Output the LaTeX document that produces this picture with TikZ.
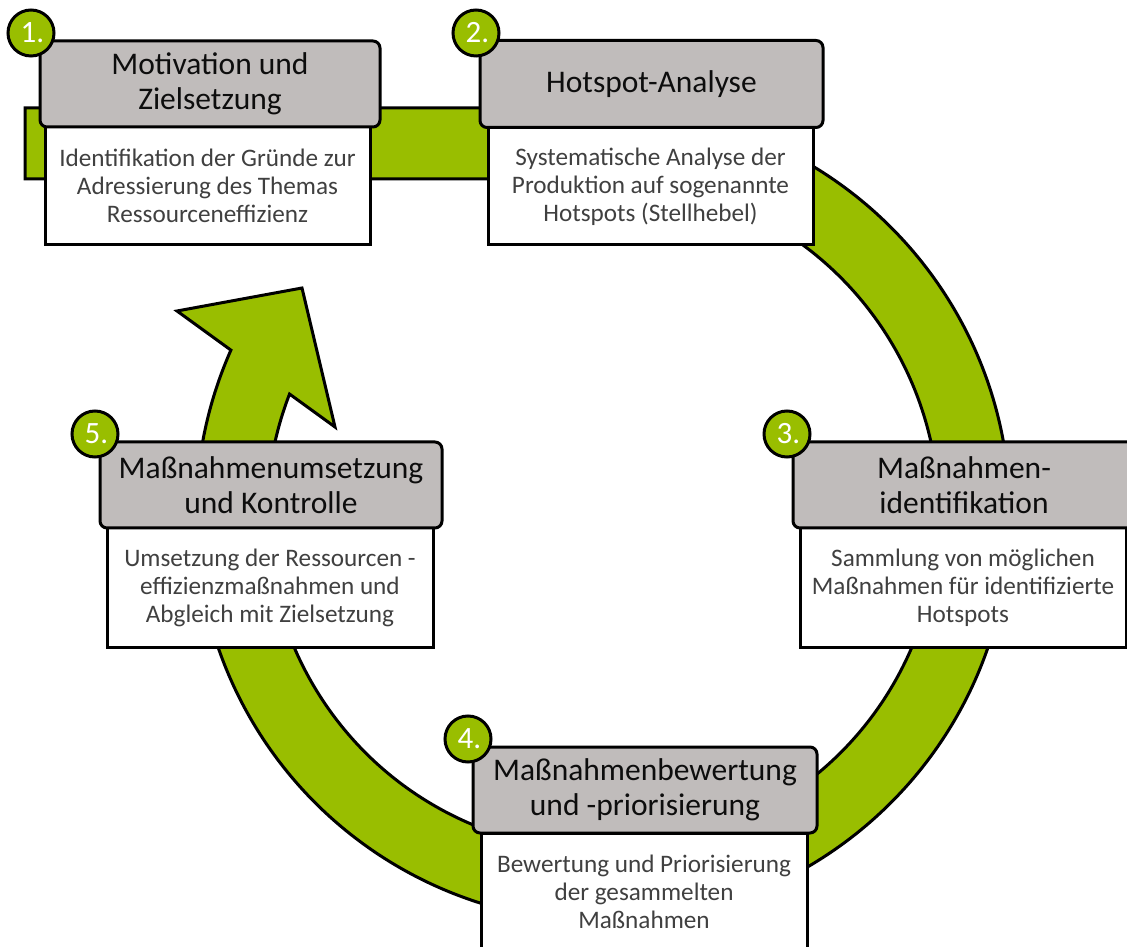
\documentclass[tikz,border=0pt]{standalone}
\usepackage{fontspec}
\setmainfont{Carlito}
\definecolor{ringgreen}{RGB}{153,190,0}
\definecolor{headgrey}{RGB}{192,188,187}
\definecolor{bodytext}{RGB}{64,64,64}
\definecolor{headtext}{RGB}{13,13,13}
\begin{document}
\begin{tikzpicture}[x=1pt,y=1pt,
  head/.style={draw=black, line width=3pt, fill=headgrey, rounded corners=7pt,
    align=center, text=headtext, inner sep=0pt,
    font=\fontsize{31.5}{35}\selectfont},
  body/.style={draw=black, line width=3pt, fill=white,
    align=center, text=bodytext, inner sep=0pt,
    font=\fontsize{25.2}{28}\selectfont},
  num/.style={circle, draw=black, line width=3pt, fill=ringgreen, text=white,
    minimum size=46pt, inner sep=0pt, font=\fontsize{31}{32}\selectfont},
  ring/.style={fill=ringgreen, draw=black, line width=3pt, line join=miter}]
\useasboundingbox (0,0) rectangle (1127,946);

% circular band with arrow head, centred at (603,431)
\path[ring] (25,838) -- (603,838)
  arc[start angle=90, end angle=-203.9, radius=407]
  -- (177,635) -- (302,658) -- (335,519)
  -- ([shift={(603,431)}]-201.1:336)
  arc[start angle=-201.1, end angle=90, radius=336]
  -- (25,767) -- cycle;

% description boxes
\node[body, minimum width=325pt, minimum height=118pt] (b1) at (207.5,760)
  {Identifikation der Gründe zur\\Adressierung des Themas\\Ressourceneffizienz};
\node[body, minimum width=325pt, minimum height=117pt] (b2) at (650.5,759.5)
  {Systematische Analyse der\\Produktion auf sogenannte\\Hotspots (Stellhebel)};
\node[body, minimum width=326pt, minimum height=119pt] (b3) at (963,358.5)
  {Sammlung von möglichen\\Maßnahmen für identifizierte\\Hotspots};
\node[body, minimum width=326pt, minimum height=118pt] (b4) at (644,54)
  {Bewertung und Priorisierung\\der gesammelten\\Maßnahmen};
\node[body, minimum width=326pt, minimum height=119pt] (b5) at (270,358.5)
  {Umsetzung der Ressourcen -\\effizienzmaßnahmen und\\Abgleich mit Zielsetzung};

% step titles
\node[head, minimum width=340pt, minimum height=86pt] (h1) at (210,862)
  {Motivation und\\Zielsetzung};
\node[head, minimum width=343pt, minimum height=87pt] (h2) at (651.5,862)
  {Hotspot-Analyse};
\node[head, minimum width=342pt, minimum height=86pt] (h3) at (964,461)
  {Maßnahmen-\\identifikation};
\node[head, minimum width=344pt, minimum height=86pt] (h4) at (645,156)
  {Maßnahmenbewertung\\und -priorisierung};
\node[head, minimum width=342pt, minimum height=86pt] (h5) at (271,461)
  {Maßnahmenumsetzung\\und Kontrolle};

% step numbers
\node[num] (n1) at (31,913) {\hspace{3pt}1.};
\node[num] (n2) at (476,913) {\hspace{3pt}2.};
\node[num] (n3) at (787,512) {\hspace{3pt}3.};
\node[num] (n4) at (468,207) {\hspace{3pt}4.};
\node[num] (n5) at (95,512) {\hspace{3pt}5.};
\end{tikzpicture}
\end{document}
